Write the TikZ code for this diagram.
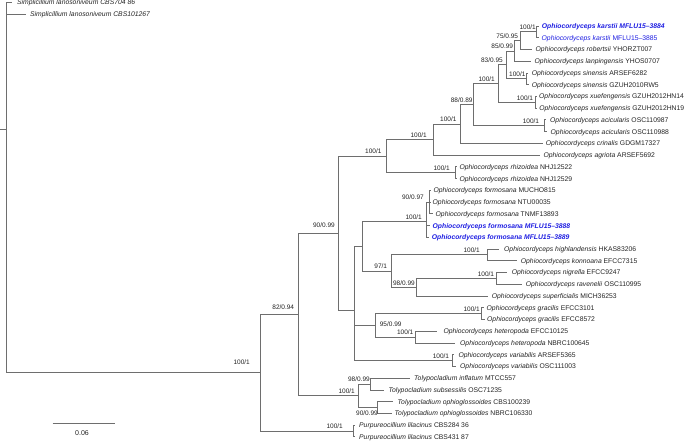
\documentclass[tikz,border=0pt]{standalone}
\usepackage{fontspec}
\setmainfont{Liberation Sans}
\definecolor{brc}{RGB}{110,110,110}
\definecolor{txc}{RGB}{35,35,35}
\definecolor{hib}{RGB}{30,30,225}
\tikzset{
  br/.style={draw=brc, line width=0.85pt},
  leaf/.style={anchor=base west, inner sep=0pt, yshift=-2.45pt, font=\fontsize{6.8}{7}\selectfont, text=txc},
  hileaf/.style={leaf, text=hib},
  suplab/.style={anchor=base east, inner sep=0pt, font=\fontsize{6.5}{7}\selectfont, text=txc},
  supc/.style={anchor=center, inner sep=0pt, font=\fontsize{6.5}{7}\selectfont, text=txc},
}
\begin{document}
\begin{tikzpicture}[x=1pt,y=-1pt]
\useasboundingbox (0,0) rectangle (685,442);
% internal nodes
\coordinate (r0) at (0,129.85);
\coordinate (r) at (6,129.85);
\coordinate (A) at (260,372.82);
\coordinate (P) at (353,431.01);
\coordinate (B) at (298.7,314.63);
\coordinate (C) at (338,233.46);
\coordinate (D) at (386,156.16);
\coordinate (F) at (433.3,139.58);
\coordinate (G) at (460,124.03);
\coordinate (H) at (473,104.68);
\coordinate (I) at (498.7,83.58);
\coordinate (J) at (506,64.87);
\coordinate (K) at (514,50.93);
\coordinate (L) at (520,40.66);
\coordinate (M) at (536.7,31.85);
\coordinate (Sn) at (526.5,78.81);
\coordinate (Xu) at (535.7,102.29);
\coordinate (Ac) at (544,125.77);
\coordinate (R) at (455,172.73);
\coordinate (E) at (354.3,310.76);
\coordinate (N) at (362.3,246.35);
\coordinate (Q) at (426.7,221.65);
\coordinate (U) at (429.3,202.08);
\coordinate (S) at (391,271.05);
\coordinate (V) at (487.3,254.91);
\coordinate (W) at (416.3,287.2);
\coordinate (X) at (496,278.39);
\coordinate (O) at (375,325.35);
\coordinate (Z) at (481.7,313.61);
\coordinate (Y) at (415,337.09);
\coordinate (Va) at (452,360.57);
\coordinate (T) at (358.3,395.79);
\coordinate (T1) at (370.7,384.05);
\coordinate (T2) at (377.3,407.53);
% leaf tips
\coordinate (l1) at (12,2.5);
\coordinate (l2) at (26,14.24);
\coordinate (l3) at (539,25.98);
\coordinate (l4) at (539,37.72);
\coordinate (l5) at (531.7,49.46);
\coordinate (l6) at (530.5,61.2);
\coordinate (l7) at (528,72.94);
\coordinate (l8) at (528.5,84.68);
\coordinate (l9) at (536.8,96.42);
\coordinate (l10) at (537,108.16);
\coordinate (l11) at (546,119.9);
\coordinate (l12) at (547,131.64);
\coordinate (l13) at (543,143.38);
\coordinate (l14) at (539.5,155.12);
\coordinate (l15) at (457,166.86);
\coordinate (l16) at (457,178.6);
\coordinate (l17) at (431,190.34);
\coordinate (l18) at (431,202.08);
\coordinate (l19) at (433,213.82);
\coordinate (l20) at (429.5,225.56);
\coordinate (l21) at (429,237.3);
\coordinate (l22) at (499.3,249.04);
\coordinate (l23) at (516.7,260.78);
\coordinate (l24) at (507.3,272.52);
\coordinate (l25) at (521.7,284.26);
\coordinate (l26) at (488.3,296.0);
\coordinate (l27) at (483.5,307.74);
\coordinate (l28) at (484.5,319.48);
\coordinate (l29) at (437,331.22);
\coordinate (l30) at (455,342.96);
\coordinate (l31) at (454,354.7);
\coordinate (l32) at (455.5,366.44);
\coordinate (l33) at (410,378.18);
\coordinate (l34) at (383.5,389.92);
\coordinate (l35) at (392.7,401.66);
\coordinate (l36) at (391.7,413.4);
\coordinate (l37) at (355,425.14);
\coordinate (l38) at (355,436.88);
% branches
\draw[br] (r0) -- (r);
\foreach \p/\c in {r/l1,r/l2,r/A,A/B,A/P,P/l37,P/l38,B/C,B/T,C/D,C/E,D/F,D/R,F/G,F/l14,G/H,G/l13,H/I,H/Ac,I/J,I/Xu,J/K,J/Sn,K/L,K/l6,L/M,L/l5,M/l3,M/l4,Sn/l7,Sn/l8,Xu/l9,Xu/l10,Ac/l11,Ac/l12,R/l15,R/l16,E/N,E/O,E/Va,N/Q,N/S,Q/U,Q/l20,Q/l21,U/l17,U/l18,U/l19,S/V,S/W,V/l22,V/l23,W/X,W/l26,X/l24,X/l25,O/Z,O/Y,Z/l27,Z/l28,Y/l29,Y/l30,Va/l31,Va/l32,T/T1,T/T2,T1/l33,T1/l34,T2/l35,T2/l36}
  \draw[br] (\p) |- (\c);
% leaf labels
\node[leaf] (t1) at (17,2.5) {\textit{Simplicillium lanosoniveum CBS704 86}};
\node[leaf] (t2) at (30,14.24) {\textit{Simplicillium lanosoniveum CBS101267}};
\node[hileaf] (t3) at (541.7,25.98) {\bfseries\itshape Ophiocordyceps karstii MFLU15–3884};
\node[hileaf] (t4) at (541.5,37.72) {\textit{Ophiocordyceps karstii} MFLU15–3885};
\node[leaf] (t5) at (535.5,49.46) {\textit{Ophiocordyceps robertsii} YHORZT007};
\node[leaf] (t6) at (534.5,61.2) {\textit{Ophiocordyceps lanpingensis} YHOS0707};
\node[leaf] (t7) at (531.7,72.94) {\textit{Ophiocordyceps sinensis} ARSEF6282};
\node[leaf] (t8) at (531.7,84.68) {\textit{Ophiocordyceps sinensis} GZUH2010RW5};
\node[leaf] (t9) at (539,96.42) {\textit{Ophiocordyceps xuefengensis} GZUH2012HN14};
\node[leaf] (t10) at (539.2,108.16) {\textit{Ophiocordyceps xuefengensis} GZUH2012HN19};
\node[leaf] (t11) at (550,119.9) {\textit{Ophiocordyceps acicularis} OSC110987};
\node[leaf] (t12) at (550.5,131.64) {\textit{Ophiocordyceps acicularis} OSC110988};
\node[leaf] (t13) at (545.7,143.38) {\textit{Ophiocordyceps crinalis} GDGM17327};
\node[leaf] (t14) at (543.3,155.12) {\textit{Ophiocordyceps agriota} ARSEF5692};
\node[leaf] (t15) at (459.3,166.86) {\textit{Ophiocordyceps rhizoidea} NHJ12522};
\node[leaf] (t16) at (459.3,178.6) {\textit{Ophiocordyceps rhizoidea} NHJ12529};
\node[leaf] (t17) at (433.3,190.34) {\textit{Ophiocordyceps formosana} MUCHO815};
\node[leaf] (t18) at (432.5,202.08) {\textit{Ophiocordyceps formosana} NTU00035};
\node[leaf] (t19) at (435.5,213.82) {\textit{Ophiocordyceps formosana} TNMF13893};
\node[hileaf] (t20) at (432.5,225.56) {\bfseries\itshape Ophiocordyceps formosana MFLU15–3888};
\node[hileaf] (t21) at (431.7,237.3) {\bfseries\itshape Ophiocordyceps formosana MFLU15–3889};
\node[leaf] (t22) at (504,249.04) {\textit{Ophiocordyceps highlandensis} HKAS83206};
\node[leaf] (t23) at (520.7,260.78) {\textit{Ophiocordyceps konnoana} EFCC7315};
\node[leaf] (t24) at (511.7,272.52) {\textit{Ophiocordyceps nigrella} EFCC9247};
\node[leaf] (t25) at (525.7,284.26) {\textit{Ophiocordyceps ravenelii} OSC110995};
\node[leaf] (t26) at (491.7,296.0) {\textit{Ophiocordyceps superficialis} MICH36253};
\node[leaf] (t27) at (486.5,307.74) {\textit{Ophiocordyceps gracilis} EFCC3101};
\node[leaf] (t28) at (487,319.48) {\textit{Ophiocordyceps gracilis} EFCC8572};
\node[leaf] (t29) at (443.3,331.22) {\textit{Ophiocordyceps heteropoda} EFCC10125};
\node[leaf] (t30) at (460,342.96) {\textit{Ophiocordyceps heteropoda} NBRC100645};
\node[leaf] (t31) at (458.3,354.7) {\textit{Ophiocordyceps variabilis} ARSEF5365};
\node[leaf] (t32) at (460,366.44) {\textit{Ophiocordyceps variabilis} OSC111003};
\node[leaf] (t33) at (414,378.18) {\textit{Tolypocladium inflatum} MTCC557};
\node[leaf] (t34) at (388.3,389.92) {\textit{Tolypocladium subsessilis} OSC71235};
\node[leaf] (t35) at (397.5,401.66) {\textit{Tolypocladium ophioglossoides} CBS100239};
\node[leaf] (t36) at (394.5,413.4) {\textit{Tolypocladium ophioglossoides} NBRC106330};
\node[leaf] (t37) at (359,425.14) {\textit{Purpureocillium lilacinus} CBS284 36};
\node[leaf] (t38) at (359,436.88) {\textit{Purpureocillium lilacinus} CBS431 87};
% support values
\node[suplab] (sA) at (250,364.8) {100/1};
\node[suplab] (sB) at (294.3,309.6) {82/0.94};
\node[suplab] (sC) at (335,227.3) {90/0.99};
\node[suplab] (sD) at (381.7,153.96) {100/1};
\node[suplab] (sF) at (427,137.38) {100/1};
\node[suplab] (sG) at (456.7,121.83) {100/1};
\node[suplab] (sH) at (472.7,102.48) {88/0.89};
\node[suplab] (sI) at (495,81.38) {100/1};
\node[suplab] (sJ) at (503,62.67) {83/0.95};
\node[suplab] (sK) at (513.3,48.73) {85/0.99};
\node[suplab] (sL) at (518.3,38.46) {75/0.95};
\node[suplab] (sM) at (536,29.65) {100/1};
\node[suplab] (sSn) at (525.7,76.61) {100/1};
\node[suplab] (sXu) at (533.3,100.09) {100/1};
\node[suplab] (sAc) at (539.3,123.57) {100/1};
\node[suplab] (sR) at (450,170.53) {100/1};
\node[suplab] (sU) at (424,199.88) {90/0.97};
\node[suplab] (sQ) at (422,219.45) {100/1};
\node[suplab] (sS) at (387.3,268.85) {97/1};
\node[suplab] (sV) at (480,252.71) {100/1};
\node[suplab] (sW) at (415,285.0) {98/0.99};
\node[suplab] (sX) at (494.3,276.19) {100/1};
\node[supc] (sO) at (390.7,324.3) {95/0.99};
\node[suplab] (sZ) at (480,311.41) {100/1};
\node[suplab] (sY) at (413.5,334.89) {100/1};
\node[suplab] (sVa) at (449.3,358.37) {100/1};
\node[suplab] (sT) at (355,393.59) {100/1};
\node[suplab] (sT1) at (370,381.85) {98/0.99};
\node[supc] (sT2) at (367,413.3) {90/0.99};
\node[suplab] (sP) at (343,428.81) {100/1};
% scale bar
\coordinate (sb1) at (52.7,423.3);
\coordinate (sb2) at (115,423.3);
\draw[br] (sb1) -- (sb2);
\node[supc, font=\fontsize{7}{8}\selectfont] (sbl) at (82,433.5) {0.06};
\end{tikzpicture}
\end{document}
